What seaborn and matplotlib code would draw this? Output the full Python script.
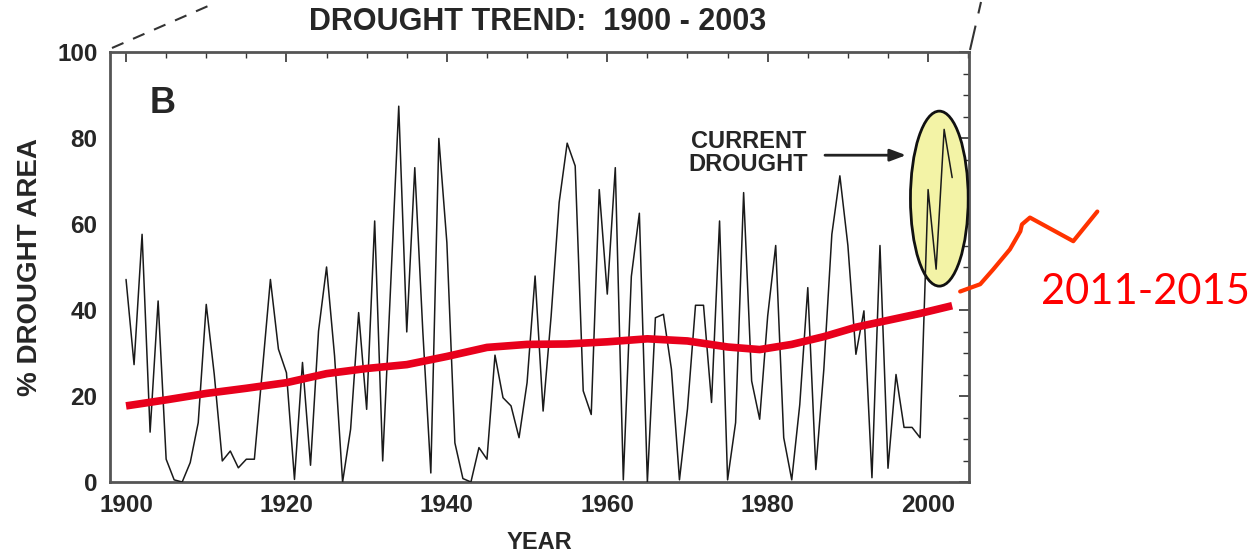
import numpy as np
import pandas as pd
import matplotlib
matplotlib.use("Agg")
import matplotlib.pyplot as plt
import seaborn as sns
from matplotlib.patches import Ellipse
from matplotlib import font_manager
from matplotlib.ticker import MultipleLocator

# ---------------- data ----------------
years = list(range(1900, 2004))
drought_pct = [
    47.1, 27.3, 57.6, 11.6, 42.1, 5.3, 0.5, 0.0, 4.5, 13.8,
    41.3, 25.0, 4.9, 7.2, 3.3, 5.3, 5.3, 26.0, 47.1, 30.9,
    25.4, 0.6, 27.8, 3.9, 35.1, 50.0, 29.3, 0.0, 12.3, 39.4,
    16.9, 60.7, 4.9, 46.0, 87.4, 34.9, 73.1, 35.1, 2.1, 79.9,
    55.7, 9.1, 0.8, 0.0, 8.0, 5.3, 29.5, 19.6, 17.7, 10.3,
    23.1, 47.9, 16.5, 38.6, 65.0, 78.8, 73.5, 21.2, 15.7, 68.0,
    43.7, 73.1, 0.5, 47.8, 62.5, 0.0, 38.2, 39.0, 26.2, 0.5,
    17.0, 41.1, 41.1, 18.5, 60.7, 0.5, 13.8, 67.3, 23.5, 14.6,
    38.6, 55.0, 10.3, 0.5, 18.0, 45.2, 2.9, 26.2, 57.6, 71.2,
    55.0, 29.7, 39.8, 1.0, 55.0, 3.2, 25.0, 12.7, 12.7, 10.3,
    68.0, 49.5, 82.0, 70.8,
]
trend_years = [1900, 1905, 1910, 1915, 1920, 1925, 1930, 1935, 1940, 1945,
               1950, 1955, 1960, 1965, 1970, 1975, 1979, 1983, 1987, 1991,
               1995, 1999, 2003]
trend_pct = [17.7, 19.1, 20.6, 21.8, 23.1, 25.2, 26.4, 27.3, 29.2, 31.3,
             32.0, 32.1, 32.6, 33.3, 32.8, 31.4, 30.8, 32.0, 33.8, 36.0,
             37.6, 39.2, 41.0]
recent_x = [2004.0, 2006.5, 2008.1, 2010.2, 2011.5, 2011.7, 2012.7, 2018.1, 2021.1]
recent_y = [44.3, 46.0, 49.4, 54.1, 58.3, 59.9, 61.5, 56.0, 62.9]
x_ticks = [1900, 1920, 1940, 1960, 1980, 2000]
y_ticks = [0, 20, 40, 60, 80, 100]

df = pd.DataFrame({"year": years, "pct": drought_pct})
tdf = pd.DataFrame({"year": trend_years, "pct": trend_pct})
rdf = pd.DataFrame({"year": recent_x, "pct": recent_y})

# ---------------- style ----------------
sns.set_theme(style="white")
avail = {f.name for f in font_manager.fontManager.ttflist}
narrow = "Liberation Sans Narrow" if "Liberation Sans Narrow" in avail else "Liberation Sans"
plt.rcParams["font.family"] = [narrow, "DejaVu Sans"]
plt.rcParams["font.weight"] = "bold"

W, H = 1259, 553
fig = plt.figure(figsize=(W / 100, H / 100), dpi=100)
L, R, T, B = 110, 969, 52, 482
ax = fig.add_axes([L / W, 1 - B / H, (R - L) / W, (B - T) / H])

sns.lineplot(data=df, x="year", y="pct", ax=ax, color="#1a1a1a", lw=1.1, zorder=4)
sns.lineplot(data=tdf, x="year", y="pct", ax=ax, color="#e8001c", lw=5.5, zorder=5,
             solid_capstyle="butt")
sns.lineplot(data=rdf, x="year", y="pct", ax=ax, color="#ff3300", lw=3.0, zorder=6)
for ln in ax.lines[-1:]:
    ln.set_clip_on(False)

ell = Ellipse((2001.4, 65.9), 7.2, 40.7, facecolor="#f3f3a6", edgecolor="#111111",
              lw=2.0, zorder=3)
ax.add_patch(ell)

ax.set_xlim(1898, 2005.1)
ax.set_ylim(0, 100)
ax.set_xticks(x_ticks)
ax.set_yticks(y_ticks)
ax.xaxis.set_minor_locator(MultipleLocator(5))
ax.yaxis.set_minor_locator(MultipleLocator(5))
ax.tick_params(which="both", direction="in", top=True, right=True, color="#333333")
ax.tick_params(which="major", length=7, width=1.2, labelsize=17.5, pad=9)
ax.tick_params(which="minor", length=4, width=1.0)
for lab in ax.get_xticklabels() + ax.get_yticklabels():
    lab.set_fontweight("bold")
for sp in ax.spines.values():
    sp.set_color("#555555")
    sp.set_linewidth(2.0)

ax.set_xlabel("YEAR", fontsize=17, fontweight="bold", labelpad=10)
ax.set_ylabel("% DROUGHT AREA", fontsize=20, fontweight="bold", labelpad=10)

ax.text(1904.5, 88, "B", fontsize=26, fontweight="bold", ha="center", va="center",
        family=["Liberation Sans", "DejaVu Sans"])
ax.text(1977.6, 76.5, "CURRENT\nDROUGHT", fontsize=17, fontweight="bold", ha="center",
        va="center", linespacing=1.0)
ax.annotate("", xy=(1997.6, 76), xytext=(1986.8, 76),
            arrowprops=dict(arrowstyle="-|>,head_length=0.8,head_width=0.3",
                            color="#222222", lw=2.0))

fig.text(538 / W, 1 - 22 / H, "DROUGHT TREND:  1900 - 2003", fontsize=22,
         fontweight="bold", ha="center", va="center")
fig.text(1145 / W, 1 - 292 / H, "2011-2015", fontsize=30, color="#ff0000",
         ha="center", va="center", fontweight="normal",
         family=["Lato", "DejaVu Sans"])

# callout lines
fig.lines.append(plt.Line2D([112 / W, 215 / W], [1 - 48 / H, 1 - 3 / H],
                            transform=fig.transFigure, color="#333333", lw=1.5,
                            ls=(0, (6, 5))))
fig.lines.append(plt.Line2D([970 / W, 981 / W], [1 - 50 / H, 1 - 2 / H],
                            transform=fig.transFigure, color="#333333", lw=1.5,
                            ls=(0, (12, 6))))

fig.savefig("out.png", dpi=100)
